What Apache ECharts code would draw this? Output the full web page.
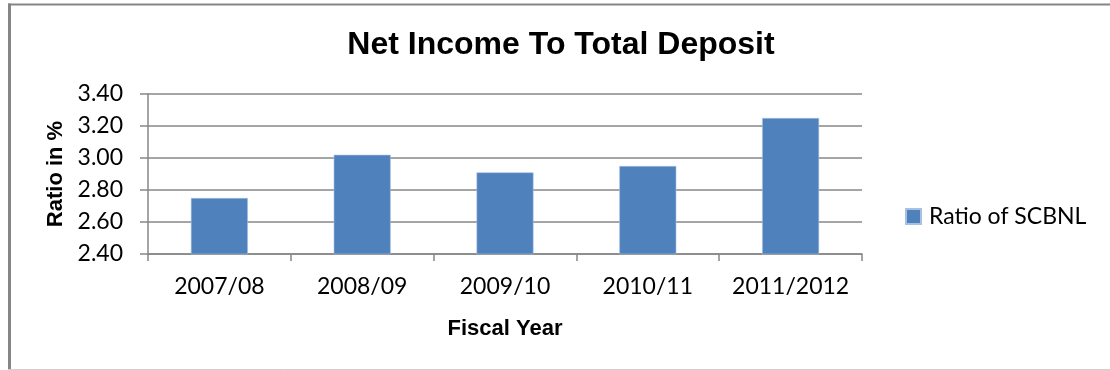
<!DOCTYPE html>
<html>
<head>
<meta charset="utf-8">
<style>
  html, body { margin: 0; padding: 0; background: #fff; }
  #chart { width: 1110px; height: 370px; }
</style>
<script src="https://cdn.jsdelivr.net/npm/echarts@6/dist/echarts.min.js"></script>
</head>
<body>
<div id="chart"></div>
<script>
// Fiscal years on the category axis
const fiscalYears = ['2007/08', '2008/09', '2009/10', '2010/11', '2011/2012'];
// Net income to total deposit ratio (%)
const ratioSCBNL = [2.75, 3.02, 2.91, 2.95, 3.25];
// Value axis range and step
const yMin = 2.4;
const yMax = 3.4;
const yStep = 0.2;

const chart = echarts.init(document.getElementById('chart'), null, { renderer: 'canvas' });

const labelFont = 'Lato, "Open Sans", sans-serif';
const boldFont = '"Liberation Sans", Arial, sans-serif';
const gridColor = '#878787';

chart.setOption({
  animation: false,
  backgroundColor: '#ffffff',
  title: {
    text: 'Net Income To Total Deposit',
    left: 556,
    top: 24,
    textAlign: 'center',
    textStyle: {
      fontFamily: boldFont,
      fontWeight: 'bold',
      fontSize: 32,
      color: '#000'
    }
  },
  legend: {
    left: 905,
    top: 205,
    padding: 0,
    itemWidth: 15,
    itemHeight: 15,
    icon: 'rect',
    textStyle: {
      fontFamily: labelFont,
      fontSize: 23,
      color: '#000',
      padding: [0, 0, 0, 3]
    },
    data: ['Ratio of SCBNL']
  },
  grid: {
    left: 148,
    right: 248,
    top: 94,
    bottom: 116,
    containLabel: false
  },
  xAxis: {
    type: 'category',
    data: fiscalYears,
    boundaryGap: true,
    name: 'Fiscal Year',
    nameLocation: 'middle',
    nameGap: 64,
    nameTextStyle: {
      fontFamily: boldFont,
      fontWeight: 'bold',
      fontSize: 22,
      color: '#000',
      verticalAlign: 'top'
    },
    axisLine: { lineStyle: { color: gridColor, width: 1.5 } },
    axisTick: { show: true, length: 7, alignWithLabel: false, lineStyle: { color: gridColor, width: 1.5 } },
    axisLabel: {
      interval: 0,
      margin: 21,
      fontFamily: labelFont,
      fontSize: 23,
      color: '#000'
    },
    splitLine: { show: false }
  },
  yAxis: {
    type: 'value',
    min: yMin,
    max: yMax,
    interval: yStep,
    name: 'Ratio in %',
    nameLocation: 'middle',
    nameGap: 80,
    nameTextStyle: {
      fontFamily: boldFont,
      fontWeight: 'bold',
      fontSize: 22,
      color: '#000'
    },
    axisLine: { show: true, lineStyle: { color: gridColor, width: 1.5 } },
    axisTick: { show: true, length: 8, lineStyle: { color: gridColor, width: 1.5 } },
    axisLabel: {
      margin: 25,
      fontFamily: labelFont,
      fontSize: 23,
      color: '#000',
      formatter: v => v.toFixed(2)
    },
    splitLine: { show: true, lineStyle: { color: gridColor, width: 1.5 } }
  },
  series: [{
    name: 'Ratio of SCBNL',
    type: 'bar',
    data: ratioSCBNL,
    barWidth: 57,
    itemStyle: { color: '#4f81bd', borderColor: '#a9c1e0', borderWidth: 0.6 }
  }],
  graphic: [
    // chart-area frame: top and left edges dark, bottom edge light
    { type: 'line', silent: true, shape: { x1: 8, y1: 4.5, x2: 1110, y2: 4.5 }, style: { stroke: '#858585', lineWidth: 2 } },
    { type: 'line', silent: true, shape: { x1: 9.5, y1: 3.5, x2: 9.5, y2: 370 }, style: { stroke: '#858585', lineWidth: 3 } },
    { type: 'line', silent: true, shape: { x1: 8, y1: 369.5, x2: 1110, y2: 369.5 }, style: { stroke: '#d0d0d0', lineWidth: 1 } }
  ]
});
</script>
</body>
</html>
